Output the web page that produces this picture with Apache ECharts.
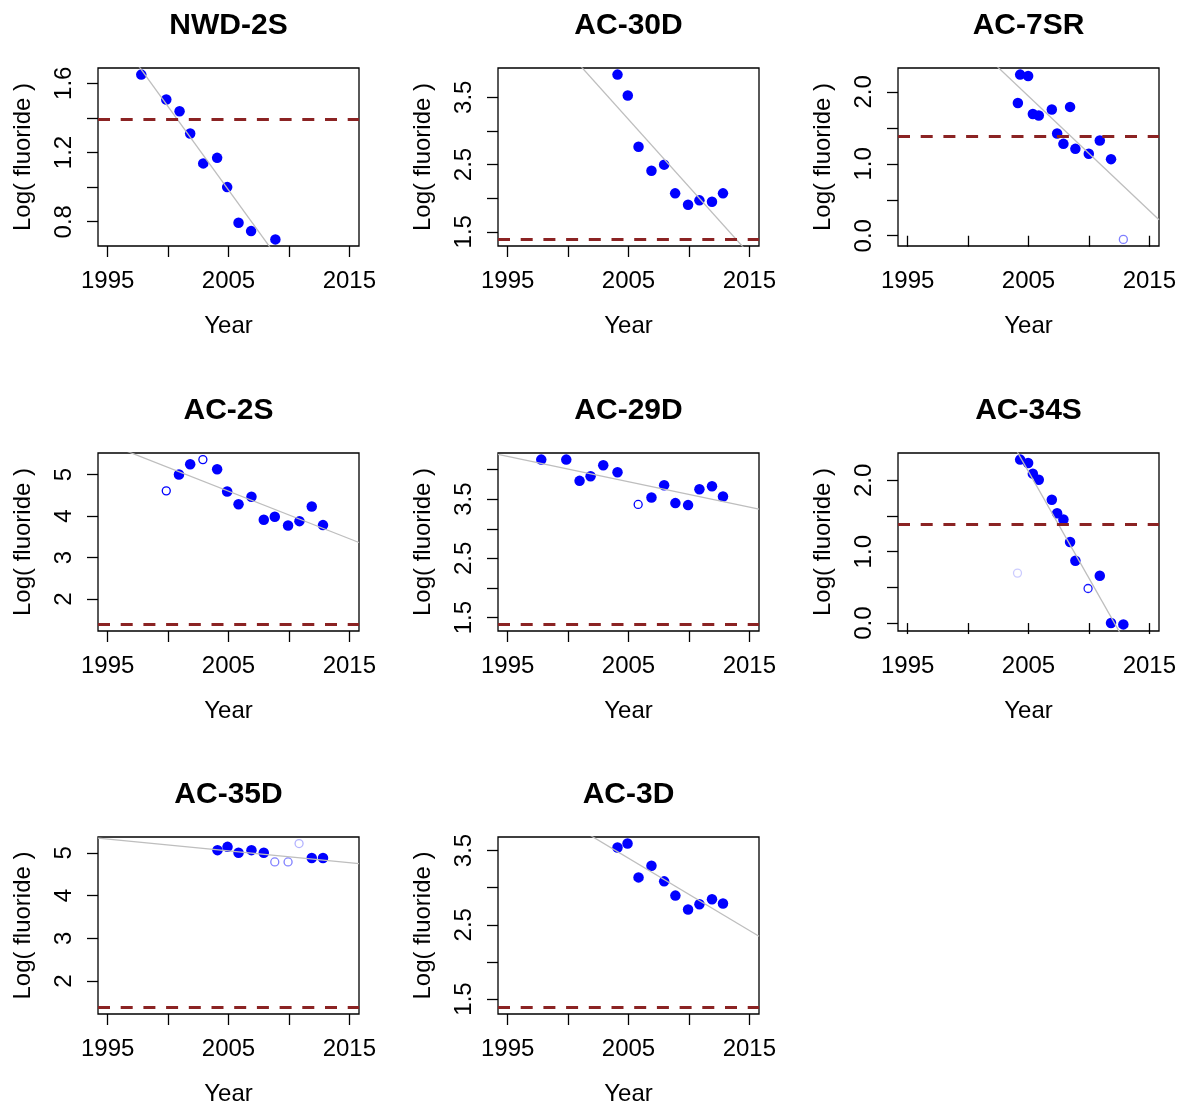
<!DOCTYPE html>
<html>
<head>
<meta charset="utf-8">
<script src="https://cdn.jsdelivr.net/npm/echarts@6/dist/echarts.min.js"></script>
</head>
<body style="margin:0;background:#fff">
<div id="container" style="width:1185px;height:1107px"></div>
<script>
var sites = ['NWD-2S', 'AC-30D', 'AC-7SR', 'AC-2S', 'AC-29D', 'AC-34S', 'AC-35D', 'AC-3D'];

// detected samples: [decimal year, log fluoride]
var nwd2s = [[1997.78,1.650],[1999.85,1.506],[2000.95,1.438],[2001.83,1.310],[2002.91,1.137],[2004.06,1.169],[2004.89,1.000],[2005.83,0.794],[2006.87,0.746],[2008.88,0.698]];
var ac30d = [[2004.09,3.837],[2004.94,3.525],[2005.83,2.765],[2006.90,2.408],[2007.95,2.498],[2008.86,2.071],[2009.93,1.902],[2010.87,1.967],[2011.91,1.947],[2012.82,2.071]];
var ac7sr = [[2004.12,1.847],[2004.31,2.241],[2004.97,2.222],[2005.36,1.694],[2005.85,1.671],[2006.93,1.755],[2007.37,1.421],[2007.89,1.278],[2008.44,1.792],[2008.88,1.208],[2009.99,1.139],[2010.90,1.324],[2011.83,1.065]];
var ac2s = [[2000.90,5.000],[2001.83,5.249],[2004.06,5.128],[2004.89,4.591],[2005.83,4.286],[2006.90,4.463],[2007.92,3.909],[2008.83,3.982],[2009.93,3.773],[2010.87,3.877],[2011.89,4.230],[2012.82,3.781]];
var ac29d = [[1997.78,4.167],[1999.85,4.167],[2000.95,3.808],[2001.86,3.887],[2002.91,4.071],[2004.09,3.954],[2006.90,3.528],[2007.95,3.735],[2008.88,3.433],[2009.93,3.399],[2010.87,3.668],[2011.91,3.718],[2012.82,3.545]];
var ac34s = [[2004.31,2.291],[2004.97,2.244],[2005.36,2.094],[2005.85,2.009],[2006.93,1.728],[2007.37,1.540],[2007.89,1.451],[2008.44,1.136],[2008.88,0.873],[2010.90,0.662],[2011.83,0.000],[2012.85,-0.019]];
var ac35d = [[2004.09,5.061],[2004.92,5.138],[2005.83,5.000],[2006.90,5.061],[2007.92,5.000],[2011.89,4.877],[2012.82,4.877]];
var ac3d = [[2004.09,3.540],[2004.92,3.594],[2005.83,3.138],[2006.90,3.295],[2007.95,3.085],[2008.88,2.893],[2009.93,2.705],[2010.87,2.777],[2011.91,2.844],[2012.82,2.786]];

// non-detects: [decimal year, log fluoride, weight]
var ac7srNd = [[2012.85,-0.051,0.5]];
var ac2sNd = [[1999.85,4.607,1],[2002.88,5.361,1]];
var ac29dNd = [[2005.80,3.410,1]];
var ac34sNd = [[2004.09,0.700,0.2],[2009.93,0.484,0.9]];
var ac35dNd = [[2008.83,4.785,0.5],[2009.93,4.785,0.5],[2010.84,5.215,0.3]];

var detected = [nwd2s, ac30d, ac7sr, ac2s, ac29d, ac34s, ac35d, ac3d];
var nondetect = [[], [], ac7srNd, ac2sNd, ac29dNd, ac34sNd, ac35dNd, []];

// fitted trend: value at year 2000 and slope per year
var trendAt2000 = [1.465, 4.171, 2.736, 5.172, 4.006, 3.615, 5.183, 3.883];
var trendSlope = [-0.0963, -0.2001, -0.1591, -0.1146, -0.04274, -0.2985, -0.02766, -0.09735];

var xTicks = [1995, 2000, 2005, 2010, 2015];
var xLabels = [1995, 2005, 2015];
var yTicks = [[0.8,1.0,1.2,1.4,1.6],[1.5,2,2.5,3,3.5],[0,0.5,1,1.5,2],[2,3,4,5],[1.5,2,2.5,3,3.5,4],[0,0.5,1,1.5,2],[2,3,4,5],[1.5,2,2.5,3,3.5]];
var yLabels = [[0.8,1.2,1.6],[1.5,2.5,3.5],[0,1,2],[2,3,4,5],[1.5,2.5,3.5],[0,1,2],[2,3,4,5],[1.5,2.5,3.5]];
var yDigits = [1, 1, 1, 0, 1, 1, 0, 1];
var limit = Math.log(4);

var FONT = 'Liberation Sans, Arial, sans-serif';
var lefts = [98, 498, 898], tops = [68, 453, 837];
var W = 261, H = 178;
var xMin = 1995 - 0.8, xMax = 2015 + 0.8;

function yRange(i) {
    var vals = detected[i].map(function (d) { return d[1]; })
        .concat(nondetect[i].map(function (d) { return d[1]; }), [limit]);
    var lo = Math.min.apply(null, vals), hi = Math.max.apply(null, vals);
    var pad = (hi - lo) * 0.04;
    return [lo - pad, hi + pad];
}

var option = { animation: false, backgroundColor: '#fff', title: [], grid: [], xAxis: [], yAxis: [], series: [] };

sites.forEach(function (name, i) {
    var r = Math.floor(i / 3), c = i % 3;
    var yr = yRange(i);
    option.title.push({
        text: name, left: lefts[c] + W / 2, top: tops[r] - 57, textAlign: 'center', padding: 0,
        textStyle: { fontFamily: FONT, fontSize: 30, fontWeight: 'bold', color: '#000' }
    });
    option.grid.push({ left: lefts[c], top: tops[r], width: W, height: H, show: true, borderColor: '#000', borderWidth: 1.3, backgroundColor: 'transparent' });
    option.xAxis.push({
        type: 'value', gridIndex: i, min: xMin, max: xMax,
        name: 'Year', nameLocation: 'middle', nameGap: 68,
        nameTextStyle: { fontFamily: FONT, fontSize: 24, color: '#000' },
        axisLine: { show: false }, splitLine: { show: false },
        axisTick: { show: true, customValues: xTicks, length: 11, lineStyle: { color: '#000', width: 1.3 } },
        axisLabel: {
            customValues: xLabels, margin: 23, fontFamily: FONT, fontSize: 24, color: '#000',
            formatter: function (v) { return String(Math.round(v)); }
        }
    });
    option.yAxis.push({
        type: 'value', gridIndex: i, min: yr[0], max: yr[1],
        name: 'Log( fluoride )', nameLocation: 'middle', nameGap: 63,
        nameTextStyle: { fontFamily: FONT, fontSize: 24, color: '#000' },
        axisLine: { show: false }, splitLine: { show: false },
        axisTick: { show: true, customValues: yTicks[i], length: 11, lineStyle: { color: '#000', width: 1.3 } },
        axisLabel: {
            customValues: yLabels[i], rotate: 90, margin: 22, fontFamily: FONT, fontSize: 24, color: '#000',
            formatter: function (v) { return Number(v).toFixed(yDigits[i]); }
        }
    });
    option.series.push({
        type: 'line', xAxisIndex: i, yAxisIndex: i, silent: true, symbol: 'none', clip: true,
        data: [[xMin, trendAt2000[i] + trendSlope[i] * (xMin - 2000)], [xMax, trendAt2000[i] + trendSlope[i] * (xMax - 2000)]],
        lineStyle: { color: '#bebebe', width: 1.3 },
        markLine: {
            silent: true, symbol: ['none', 'none'], label: { show: false },
            lineStyle: { color: '#8B2323', width: 2.8, type: [12, 10.7] },
            data: [{ yAxis: limit }]
        }
    });
    option.series.push({
        type: 'scatter', xAxisIndex: i, yAxisIndex: i, silent: true, symbol: 'circle', symbolSize: 10.5,
        data: detected[i], itemStyle: { color: '#0000ff', opacity: 1 }
    });
    option.series.push({
        type: 'scatter', xAxisIndex: i, yAxisIndex: i, silent: true, symbol: 'circle', symbolSize: 8,
        data: nondetect[i].map(function (d) {
            return { value: [d[0], d[1]], itemStyle: { opacity: d[2] } };
        }),
        itemStyle: { color: 'rgba(0,0,0,0)', borderColor: '#0000ff', borderWidth: 1.3 }
    });
});

var myChart = echarts.init(document.getElementById('container'));
myChart.setOption(option);
</script>
</body>
</html>
